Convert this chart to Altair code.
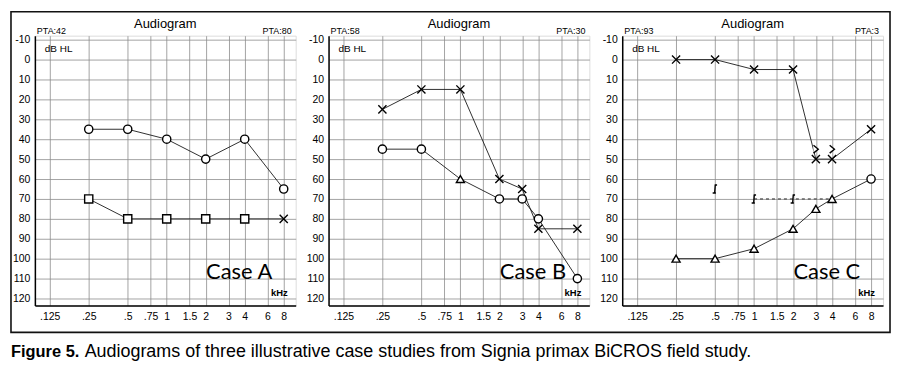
import altair as alt
import pandas as pd

# ---------------- data ----------------
freq_ticks = [0.125, 0.25, 0.5, 0.75, 1, 1.5, 2, 3, 4, 6, 8]
freq_labels = [".125", ".25", ".5", ".75", "1", "1.5", "2", "3", "4", "6", "8"]
db_ticks = list(range(-10, 121, 10))

case_names = ["Case A", "Case B", "Case C"]
pta_left = ["PTA:42", "PTA:58", "PTA:93"]
pta_right = ["PTA:80", "PTA:30", "PTA:3"]
panel_title = "Audiogram"
caption_bold = "Figure 5."
caption_rest = "Audiograms of three illustrative case studies from Signia primax BiCROS field study."

# Case A
a1_freq = [0.25, 0.5, 1, 2, 4, 8]
a1_db = [35, 35, 40, 50, 40, 65]
a1_sym = ["O", "O", "O", "O", "O", "O"]
a2_freq = [0.25, 0.5, 1, 2, 4, 8]
a2_db = [70, 80, 80, 80, 80, 80]
a2_sym = ["S", "S", "S", "S", "S", "X"]

# Case B
b1_freq = [0.25, 0.5, 1, 2, 3, 4, 8]
b1_db = [25, 15, 15, 60, 65, 85, 85]
b1_sym = ["X", "X", "X", "X", "X", "X", "X"]
b2_freq = [0.25, 0.5, 1, 2, 3, 4, 8]
b2_db = [45, 45, 60, 70, 70, 80, 110]
b2_sym = ["O", "O", "T", "O", "O", "O", "O"]

# Case C
c1_freq = [0.25, 0.5, 1, 2, 3, 4, 8]
c1_db = [0, 0, 5, 5, 50, 50, 35]
c1_sym = ["X", "X", "X", "X", "X", "X", "X"]
c2_freq = [0.25, 0.5, 1, 2, 3, 4, 8]
c2_db = [100, 100, 95, 85, 75, 70, 60]
c2_sym = ["T", "T", "T", "T", "T", "T", "O"]
c3_freq = [0.5, 1, 2]
c3_db = [65, 70, 70]
c3_sym = ["BR", "BR", "BR"]
c4_freq = [3, 4]
c4_db = [45, 45]
c4_sym = ["GT", "GT"]
c_dash_freq = [1, 2, 4]
c_dash_db = [70, 70, 70]

rows = []
def add(case, curve, fr, db, sym, connect):
    for f, d, s in zip(fr, db, sym):
        rows.append(dict(case=case, curve=curve, freq=f, db=d, sym=s, connect=connect))

add("Case A", "A1", a1_freq, a1_db, a1_sym, True)
add("Case A", "A2", a2_freq, a2_db, a2_sym, True)
add("Case B", "B1", b1_freq, b1_db, b1_sym, True)
add("Case B", "B2", b2_freq, b2_db, b2_sym, True)
add("Case C", "C1", c1_freq, c1_db, c1_sym, True)
add("Case C", "C2", c2_freq, c2_db, c2_sym, True)
add("Case C", "C3", c3_freq, c3_db, c3_sym, False)
add("Case C", "C4", c4_freq, c4_db, c4_sym, False)
df = pd.DataFrame(rows)
dash_df = pd.DataFrame(dict(case="Case C", curve="C5", freq=c_dash_freq, db=c_dash_db))

sym_domain = ["O", "S", "X", "T", "BR", "GT"]
sym_shapes = ["circle", "square", "M-1,-1L1,1M1,-1L-1,1", "triangle-up",
              "M-0.1,-1L0.5,-1M0.05,-1L-0.1,1M-0.6,1L0.2,1", "M-0.6,-1L0.6,0L-0.6,1"]
sym_sizes = [68, 64, 115, 85, 80, 60]

# ---------------- helpers ----------------
label_expr = ""
for v, l in zip(freq_ticks, freq_labels):
    label_expr += f"datum.value == {v} ? '{l}' : "
label_expr += "''"

W, H = 262, 271
X = alt.X("freq:Q",
          scale=alt.Scale(type="log", base=2, domain=[0.096, 9.9], nice=False),
          axis=alt.Axis(values=freq_ticks, labelExpr=label_expr, title=None, ticks=False,
                        tickSize=0, labelPadding=6, labelFontSize=10.5, labelColor="black",
                        domainColor="black", domainWidth=1.5, grid=True,
                        gridColor="#8c8c8c", gridWidth=0.8, labelFlush=False))
Y = alt.Y("db:Q",
          scale=alt.Scale(domain=[-12, 123.5], reverse=True, nice=False, zero=False),
          axis=alt.Axis(values=db_ticks, labelExpr="'' + datum.value", title=None,
                        ticks=False, tickSize=0, labelPadding=5,
                        labelFontSize=10.5, labelColor="black", domainColor="black",
                        domainWidth=1.5, grid=True, gridColor="#8c8c8c", gridWidth=0.8,
                        labelFlush=False))

def txt(text, x, y, size, align="left", baseline="alphabetic", font="Liberation Sans",
        weight="normal"):
    return alt.Chart(pd.DataFrame({"t": [text]})).mark_text(
        align=align, baseline=baseline, fontSize=size, font=font, fontWeight=weight,
        color="black").encode(x=alt.value(x), y=alt.value(y), text="t:N")

def panel(i):
    name = case_names[i]
    d = df[df.case == name]
    lines = alt.Chart(d[d.connect]).mark_line(color="#1a1a1a", strokeWidth=0.9).encode(
        x=X, y=Y, detail="curve:N", order="freq:Q")
    pts = alt.Chart(d).mark_point(filled=False, fill="white", fillOpacity=1, stroke="black",
                                  strokeWidth=1.4, opacity=1).encode(
        x=X, y=Y,
        shape=alt.Shape("sym:N", scale=alt.Scale(domain=sym_domain, range=sym_shapes), legend=None),
        size=alt.Size("sym:N", scale=alt.Scale(domain=sym_domain, range=sym_sizes), legend=None))
    layers = [lines]
    if name == "Case C":
        layers.append(alt.Chart(dash_df).mark_line(color="#1a1a1a", strokeWidth=0.9,
                                                  strokeDash=[3, 3]).encode(
            x=X, y=Y, detail="curve:N", order="freq:Q"))
    layers += [pts,
               txt(panel_title, W / 2, -8, 13, align="center"),
               txt(pta_left[i], 2, -1.5, 9),
               txt(pta_right[i], W - 4, -1.5, 9, align="right"),
               txt("dB HL", 10, 16, 10),
               txt("kHz", 254, 262, 9.5, align="right", weight="bold"),
               txt(name, 172, 244, 22, font="Lato")]
    if i == 0:
        frame = alt.Chart(pd.DataFrame({"a": [0]})).mark_rect(
            fill="white", fillOpacity=0, stroke="#111", strokeWidth=1.6).encode(
            x=alt.value(-24), x2=alt.value(859), y=alt.value(-24), y2=alt.value(298))
        layers = [frame] + layers
        layers += [txt(caption_bold, -24, 323, 16.5, weight="bold"),
                   txt(caption_rest, 50, 323, 18)]
    return alt.layer(*layers).properties(width=W, height=H)

chart = alt.hconcat(panel(0), panel(1), panel(2), spacing=33, bounds="flush").properties(
    padding={"left": 1, "top": 1, "right": 0, "bottom": 0}
).configure_view(stroke="black", strokeWidth=1).configure(font="Liberation Sans")

chart.save("out.html", embed_options={"renderer": "svg", "actions": False})
